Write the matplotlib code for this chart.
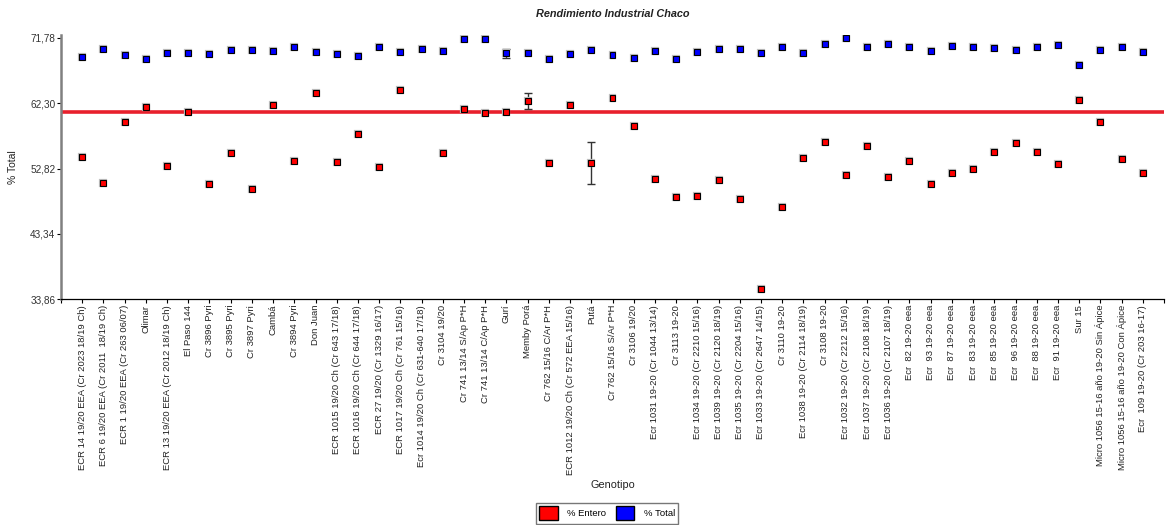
import numpy as np
import matplotlib
matplotlib.use('Agg')
import matplotlib.pyplot as plt
import matplotlib.patheffects as pe
from matplotlib.patches import Patch

plt.rcParams['font.family'] = ['Liberation Sans', 'DejaVu Sans']

# genotipos (eje x)
genotipos = [
    'ECR 14 19/20 EEA (Cr 2023 18/19 Ch)', 'ECR 6 19/20 EEA (Cr 2011  18/19 Ch)',
    'ECR 1 19/20 EEA (Cr 263 06/07)', 'Olimar', 'ECR 13 19/20 EEA (Cr 2012 18/19 Ch)',
    'El Paso 144', 'Cr 3896 Pyri', 'Cr 3895 Pyri', 'Cr 3897 Pyri', 'Cambá',
    'Cr 3894 Pyri', 'Don Juan', 'ECR 1015 19/20 Ch (Cr 643 17/18)',
    'ECR 1016 19/20 Ch (Cr 644 17/18)', 'ECR 27 19/20 (Cr 1329 16/17)',
    'ECR 1017 19/20 Ch (Cr 761 15/16)', 'Ecr 1014 19/20 Ch (Cr 631-640 17/18)',
    'Cr 3104 19/20', 'Cr 741 13/14 S/Ap P*H', 'Cr 741 13/14 C/Ap P*H', 'Gurí',
    'Memby Porá', 'Cr 762 15/16 C/Ar P*H', 'ECR 1012 19/20 Ch (Cr 572 EEA 15/16)',
    'Putá', 'Cr 762 15/16 S/Ar P*H', 'Cr 3106 19/20', 'Ecr 1031 19-20 (Cr 1044 13/14)',
    'Cr 3113 19-20', 'Ecr 1034 19-20 (Cr 2210 15/16)', 'Ecr 1039 19-20 (Cr 2120 18/19)',
    'Ecr 1035 19-20 (Cr 2204 15/16)', 'Ecr 1033 19-20 (Cr 2647 14/15)', 'Cr 3110 19-20',
    'Ecr 1038 19-20 (Cr 2114 18/19)', 'Cr 3108 19-20', 'Ecr 1032 19-20 (Cr 2212 15/16)',
    'Ecr 1037 19-20 (Cr 2108 18/19)', 'Ecr 1036 19-20 (Cr 2107 18/19)',
    'Ecr  82 19-20 eea', 'Ecr  93 19-20 eea', 'Ecr  87 19-20 eea', 'Ecr  83 19-20 eea',
    'Ecr  85 19-20 eea', 'Ecr  96 19-20 eea', 'Ecr  88 19-20 eea', 'Ecr  91 19-20 eea',
    'Sur 15', 'Micro 1056 15-16 año 19-20 Sin Ápice', 'Micro 1056 15-16 año 19-20 Con Ápice',
    'Ecr  109 19-20 (Cr 203 16-17)']

total = [68.98, 70.14, 69.27, 68.74, 69.51, 69.51, 69.41, 70.00, 70.00, 69.90,
         70.38, 69.75, 69.41, 69.12, 70.38, 69.75, 70.14, 69.90, 71.64, 71.54,
         69.52, 69.51, 68.64, 69.41, 70.04, 69.27, 68.88, 69.90, 68.64, 69.75,
         70.14, 70.14, 69.51, 70.38, 69.61, 70.91, 71.68, 70.38, 70.91, 70.38,
         69.90, 70.52, 70.38, 70.28, 70.04, 70.38, 70.67, 67.87, 70.04, 70.38,
         69.75]

entero = [54.49, 50.72, 59.56, 61.68, 53.13, 61.06, 50.62, 55.11, 49.85, 61.97,
          53.86, 63.71, 53.76, 57.77, 52.99, 64.20, np.nan, 55.02, 61.42, 60.82,
          61.03, 62.58, 53.62, 61.97, 53.62, 63.08, 58.93, 51.25, 48.69, 48.83,
          51.10, 48.45, 35.35, 47.29, 54.39, 56.66, 51.83, 56.13, 51.59, 53.86,
          50.57, 52.12, 52.75, 55.26, 56.51, 55.26, 53.47, 62.70, 59.56, 54.24,
          52.12]

# barras de error (solo algunos genotipos)
err_total = {21: 0.65}
err_entero = {22: 1.16, 25: 3.09}

linea_ref = 61.05
yticks = [33.86, 43.34, 52.82, 62.30, 71.78]

fig = plt.figure(figsize=(11.66, 5.25), dpi=100)
ax = fig.add_axes([61/1166, 0.4299, 1103/1166, 0.5034])

x = np.arange(1, len(genotipos) + 1)

ax.axhline(linea_ref, color='#e8202c', lw=2.6, zorder=2)

shadow = [pe.Stroke(linewidth=1.6, foreground='#c0c0c0'), pe.Normal()]
ax.plot(x, entero, 's', color='#ff0000', mec='black', mew=0.8, ms=4.3,
        zorder=4, path_effects=shadow)
ax.plot(x, total, 's', color='#0000ff', mec='black', mew=0.8, ms=4.3,
        zorder=4, path_effects=shadow)

for k, e in err_total.items():
    ax.errorbar(k, total[k-1], yerr=e, fmt='none', ecolor='#333333',
                elinewidth=1, capsize=3, capthick=1, zorder=3)
for k, e in err_entero.items():
    ax.errorbar(k, entero[k-1], yerr=e, fmt='none', ecolor='#333333',
                elinewidth=1, capsize=3, capthick=1, zorder=3)

ax.set_xlim(0, len(genotipos) + 1)
ax.set_ylim(33.86, 72.17)
ax.set_yticks(yticks)
ax.set_yticklabels([('%.2f' % v).replace('.', ',') for v in yticks])
ax.set_xticks(x)
ax.set_xticklabels(genotipos, rotation=90, fontsize=6.8, color='#222222')
ax.set_xticks([0, len(genotipos) + 1], minor=True)
ax.tick_params(axis='y', labelsize=7.2, labelcolor='#333333', length=3, width=0.8, pad=1)
ax.tick_params(axis='x', which='both', length=3, width=0.8, pad=1)

for s in ['top', 'right']:
    ax.spines[s].set_visible(False)
ax.spines['left'].set_color('#808080')
ax.spines['left'].set_linewidth(1.8)
ax.spines['bottom'].set_color('black')
ax.spines['bottom'].set_linewidth(0.9)

ax.set_ylabel('% Total', fontsize=7.5, color='#222222')
ax.yaxis.set_label_coords(-0.039, 0.5)
ax.set_xlabel('Genotipo', fontsize=7.8, color='#222222')
ax.xaxis.set_label_coords(0.5, -0.682)

fig.text(612.5/1166, 1 - 14/525, 'Rendimiento Industrial Chaco', ha='center',
         va='center', fontsize=7.8, fontweight='bold', fontstyle='italic', color='#222222')

handles = [Patch(facecolor='#ff0000', edgecolor='black', label='% Entero'),
           Patch(facecolor='#0000ff', edgecolor='black', label='% Total')]
leg = fig.legend(handles=handles, loc='upper center', bbox_to_anchor=(607/1166, 1 - 503/525),
                 ncol=2, fontsize=6.8, frameon=True, fancybox=False, borderpad=0.35,
                 handlelength=2.0, handleheight=1.9, columnspacing=1.0, handletextpad=1.0,
                 borderaxespad=0)
leg.get_frame().set_edgecolor('#555555')
leg.get_frame().set_linewidth(1.0)

fig.savefig('out.png', dpi=100)
